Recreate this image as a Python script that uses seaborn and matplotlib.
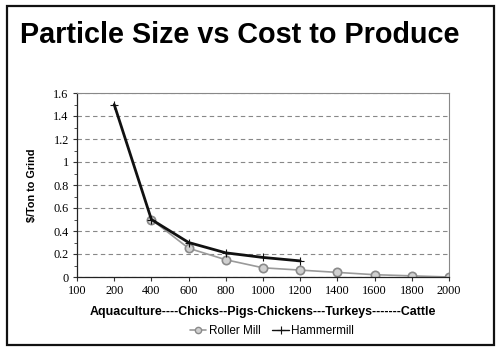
import pandas as pd
import matplotlib as mpl
from matplotlib import pyplot as plt
from matplotlib.ticker import MultipleLocator
import seaborn as sns

# particle size categories (microns), evenly spaced on the axis
sizes = ["100", "200", "400", "600", "800", "1000", "1200", "1400", "1600", "1800", "2000"]

roller_sizes = ["400", "600", "800", "1000", "1200", "1400", "1600", "1800", "2000"]
roller_cost = [0.50, 0.25, 0.15, 0.08, 0.06, 0.04, 0.02, 0.01, 0.00]

hammer_sizes = ["200", "400", "600", "800", "1000", "1200"]
hammer_cost = [1.50, 0.50, 0.30, 0.21, 0.17, 0.14]

y_ticks = [0, 0.2, 0.4, 0.6, 0.8, 1, 1.2, 1.4, 1.6]
y_labels = ["0", "0.2", "0.4", "0.6", "0.8", "1", "1.2", "1.4", "1.6"]

roller = pd.DataFrame({"size": roller_sizes, "cost": roller_cost})
hammer = pd.DataFrame({"size": hammer_sizes, "cost": hammer_cost})
for d in (roller, hammer):
    d["pos"] = pd.Categorical(d["size"], categories=sizes).codes

sns.set_style("white")
plt.rcParams["font.family"] = ["Liberation Sans", "DejaVu Sans"]
plt.rcParams.update({"text.color": "black", "axes.labelcolor": "black",
                     "xtick.color": "black", "ytick.color": "black"})

fig = plt.figure(figsize=(5.01, 3.54), dpi=100)
ax = fig.add_axes([77 / 501, 1 - 277 / 354, (449 - 77) / 501, (277 - 93) / 354])

sns.lineplot(data=roller, x="pos", y="cost", color="#9a9a9a", linewidth=1.2,
             marker="o", markersize=6, markerfacecolor="#d0d0d0",
             markeredgecolor="#8a8a8a", markeredgewidth=1.2, sort=False, ax=ax)
sns.lineplot(data=hammer, x="pos", y="cost", color="#111111", linewidth=2.0,
             marker="+", markersize=6, markeredgewidth=0.8,
             markeredgecolor="#111111", sort=False, ax=ax)

ax.set_xlim(0, len(sizes) - 1)
ax.set_ylim(0, 1.6)
ax.set_xticks(range(len(sizes)))
ax.set_xticklabels(sizes, family="Liberation Serif", fontsize=8.8)
ax.set_yticks(y_ticks)
ax.set_yticklabels(y_labels, family="Liberation Serif", fontsize=8.8)
ax.yaxis.set_minor_locator(MultipleLocator(0.1))
ax.tick_params(axis="both", which="major", direction="out", length=3, width=0.8,
               color="#333333", pad=3, left=True, bottom=True)
ax.tick_params(axis="y", which="minor", direction="out", length=2, width=0.6,
               color="#333333", left=True)
ax.yaxis.grid(True, linestyle=(0, (4, 3)), color="#888888", linewidth=0.8)
ax.set_axisbelow(True)

for side in ["top", "right"]:
    ax.spines[side].set_color("#888888")
    ax.spines[side].set_linewidth(0.8)
for side in ["left", "bottom"]:
    ax.spines[side].set_color("#222222")
    ax.spines[side].set_linewidth(0.9)

ax.set_xlabel("Aquaculture----Chicks--Pigs-Chickens---Turkeys-------Cattle",
              fontsize=8.9, fontweight="bold", labelpad=6)
ax.set_ylabel("\\$/Ton to Grind", fontsize=7.8, fontweight="bold", labelpad=12)

fig.text(20 / 501, 1 - 35 / 354, "Particle Size vs Cost to Produce",
         fontsize=20.7, fontweight="bold", ha="left", va="center")

handles = [
    mpl.lines.Line2D([], [], color="#9a9a9a", lw=1.2, marker="o", markersize=4.5,
                     markerfacecolor="#d0d0d0", markeredgecolor="#8a8a8a"),
    mpl.lines.Line2D([], [], color="#111111", lw=1.0, marker="+", markersize=6,
                     markeredgewidth=0.8),
]
fig.legend(handles, ["Roller Mill", "Hammermill"], loc="center",
           bbox_to_anchor=(272 / 501, 1 - 331 / 354), ncol=2, frameon=False,
           fontsize=8.5, handlelength=1.4, handletextpad=0.2, columnspacing=1.0)

fig.patches.append(mpl.patches.Rectangle((7 / 501, 1 - 345 / 354), 487 / 501, 339 / 354,
                                         transform=fig.transFigure, fill=False,
                                         edgecolor="#111111", linewidth=1.6))

fig.savefig("out.png", dpi=100)
